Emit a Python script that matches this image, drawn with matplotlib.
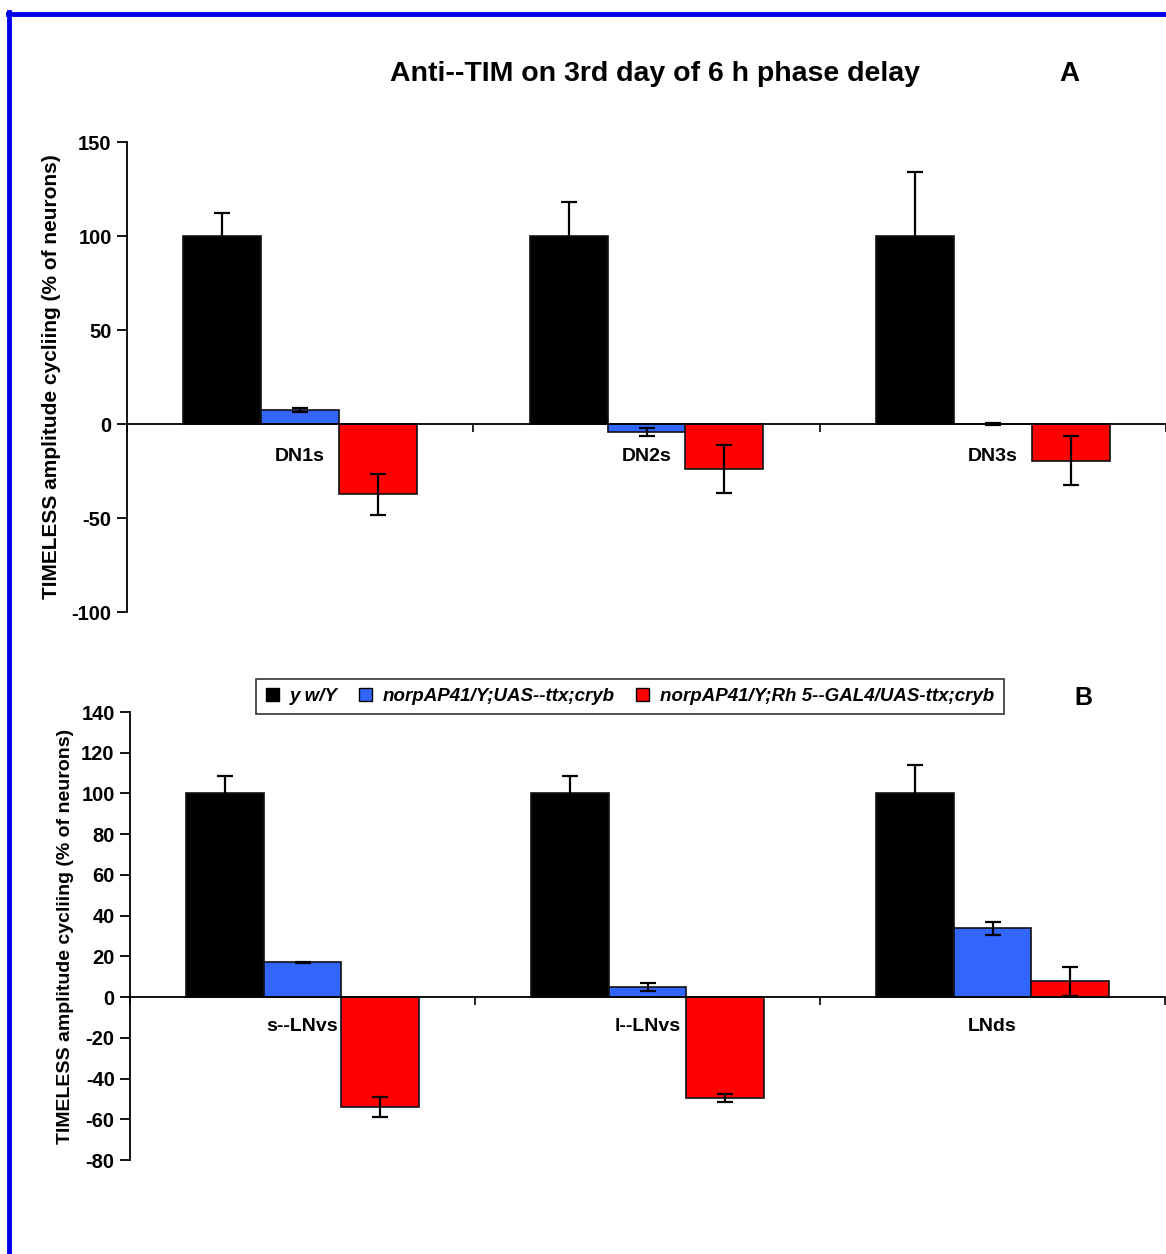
import matplotlib
matplotlib.use("Agg")
import matplotlib.pyplot as plt
import numpy as np
from matplotlib.lines import Line2D
from matplotlib.patches import Patch

plt.rcParams['font.family'] = ['Liberation Sans', 'DejaVu Sans']

# ---- data ----
groups_a = ["DN1s", "DN2s", "DN3s"]
groups_b = ["s--LNvs", "l--LNvs", "LNds"]
series = ["y w/Y", "norpAP41/Y;UAS--ttx;cryb", "norpAP41/Y;Rh 5--GAL4/UAS-ttx;cryb"]
colors = ["#000000", "#3366FF", "#FF0000"]

vals_a = [[100, 100, 100],
          [7.4, -4.1, 0.0],
          [-37.4, -24.0, -19.5]]
err_a = [[12.4, 18.0, 34.0],
         [1.2, 2.2, 0.3],
         [11.0, 12.8, 12.9]]

vals_b = [[100, 100, 100],
          [17.0, 4.8, 33.8],
          [-54.0, -49.4, 7.7]]
err_b = [[8.4, 8.4, 13.8],
         [0.2, 2.0, 3.3],
         [4.7, 2.0, 7.1]]

yticks_a = [150, 100, 50, 0, -50, -100]
yticks_b = [140, 120, 100, 80, 60, 40, 20, 0, -20, -40, -60, -80]

W, H = 1166, 1254
fig = plt.figure(figsize=(W / 100, H / 100), dpi=100)

def fx(px):
    return px / W

def fy(py):
    return 1 - py / H

def draw_panel(ax, groups, vals, errs, yticks, label_y):
    n = len(groups)
    bw = 0.225
    x = np.arange(n) + 0.5
    for i in range(3):
        ax.bar(x + (i - 1) * bw, vals[i], width=bw, color=colors[i],
               edgecolor="#111111", linewidth=1.2, zorder=2)
        ax.errorbar(x + (i - 1) * bw, vals[i], yerr=errs[i], fmt="none",
                    ecolor="black", elinewidth=1.6, capsize=6, capthick=1.6, zorder=3)
    ax.set_xlim(0, n)
    ax.set_ylim(yticks[-1], yticks[0])
    ax.set_yticks(yticks)
    ax.set_yticklabels([str(t) for t in yticks], fontsize=14.5, fontweight="bold")
    ax.tick_params(axis="y", direction="out", length=7, width=1.3, pad=4)
    ax.set_xticks(np.arange(n + 1))
    ax.set_xticklabels([])
    ax.tick_params(axis="x", direction="out", length=6, width=1.2)
    for s in ["top", "right"]:
        ax.spines[s].set_visible(False)
    ax.spines["bottom"].set_position(("data", 0))
    ax.spines["bottom"].set_linewidth(1.3)
    ax.spines["left"].set_linewidth(1.3)
    for j, g in enumerate(groups):
        ax.text(x[j], label_y, g, ha="center", va="center", fontsize=14,
                fontweight="bold")
    ax.patch.set_alpha(0)

axA = fig.add_axes([fx(127), fy(612), fx(1166) - fx(127), fy(142) - fy(612)])
draw_panel(axA, groups_a, vals_a, err_a, yticks_a, -17.5)
axA.set_ylabel("TIMELESS amplitude cycliing (% of neurons)", fontsize=15,
               fontweight="bold", labelpad=8)

axB = fig.add_axes([fx(130), fy(1160), fx(1165) - fx(130), fy(712) - fy(1160)])
draw_panel(axB, groups_b, vals_b, err_b, yticks_b, -14.5)
axB.set_ylabel("TIMELESS amplitude cycliing (% of neurons)", fontsize=14,
               fontweight="bold", labelpad=5)

fig.text(fx(655), fy(74), "Anti--TIM on 3rd day of 6 h phase delay",
         ha="center", va="center", fontsize=20.5, fontweight="bold")
fig.text(fx(1069), fy(74), "A", ha="center", va="center", fontsize=20, fontweight="bold")
fig.text(fx(1083), fy(698), "B", ha="center", va="center", fontsize=18, fontweight="bold")

handles = [Patch(facecolor=c, edgecolor="black", linewidth=1) for c in colors]
leg = fig.legend(handles, series, loc="center", bbox_to_anchor=(fx(630), fy(696.5)),
                 ncol=3, frameon=True, fancybox=False, edgecolor="black",
                 handlelength=0.7, handleheight=0.7, handletextpad=0.6,
                 columnspacing=1.1, borderpad=0.5,
                 prop={"size": 13.5, "weight": "bold", "style": "italic"})
leg.get_frame().set_linewidth(1.2)

# blue frame
fig.add_artist(Line2D([fx(8), 1.0], [fy(13.5), fy(13.5)], color="#0000EE", linewidth=3.5,
                      transform=fig.transFigure))
fig.add_artist(Line2D([fx(8.5), fx(8.5)], [fy(12), 0.0], color="#0000EE", linewidth=3.5,
                      transform=fig.transFigure))

fig.savefig("out.png", dpi=100)
